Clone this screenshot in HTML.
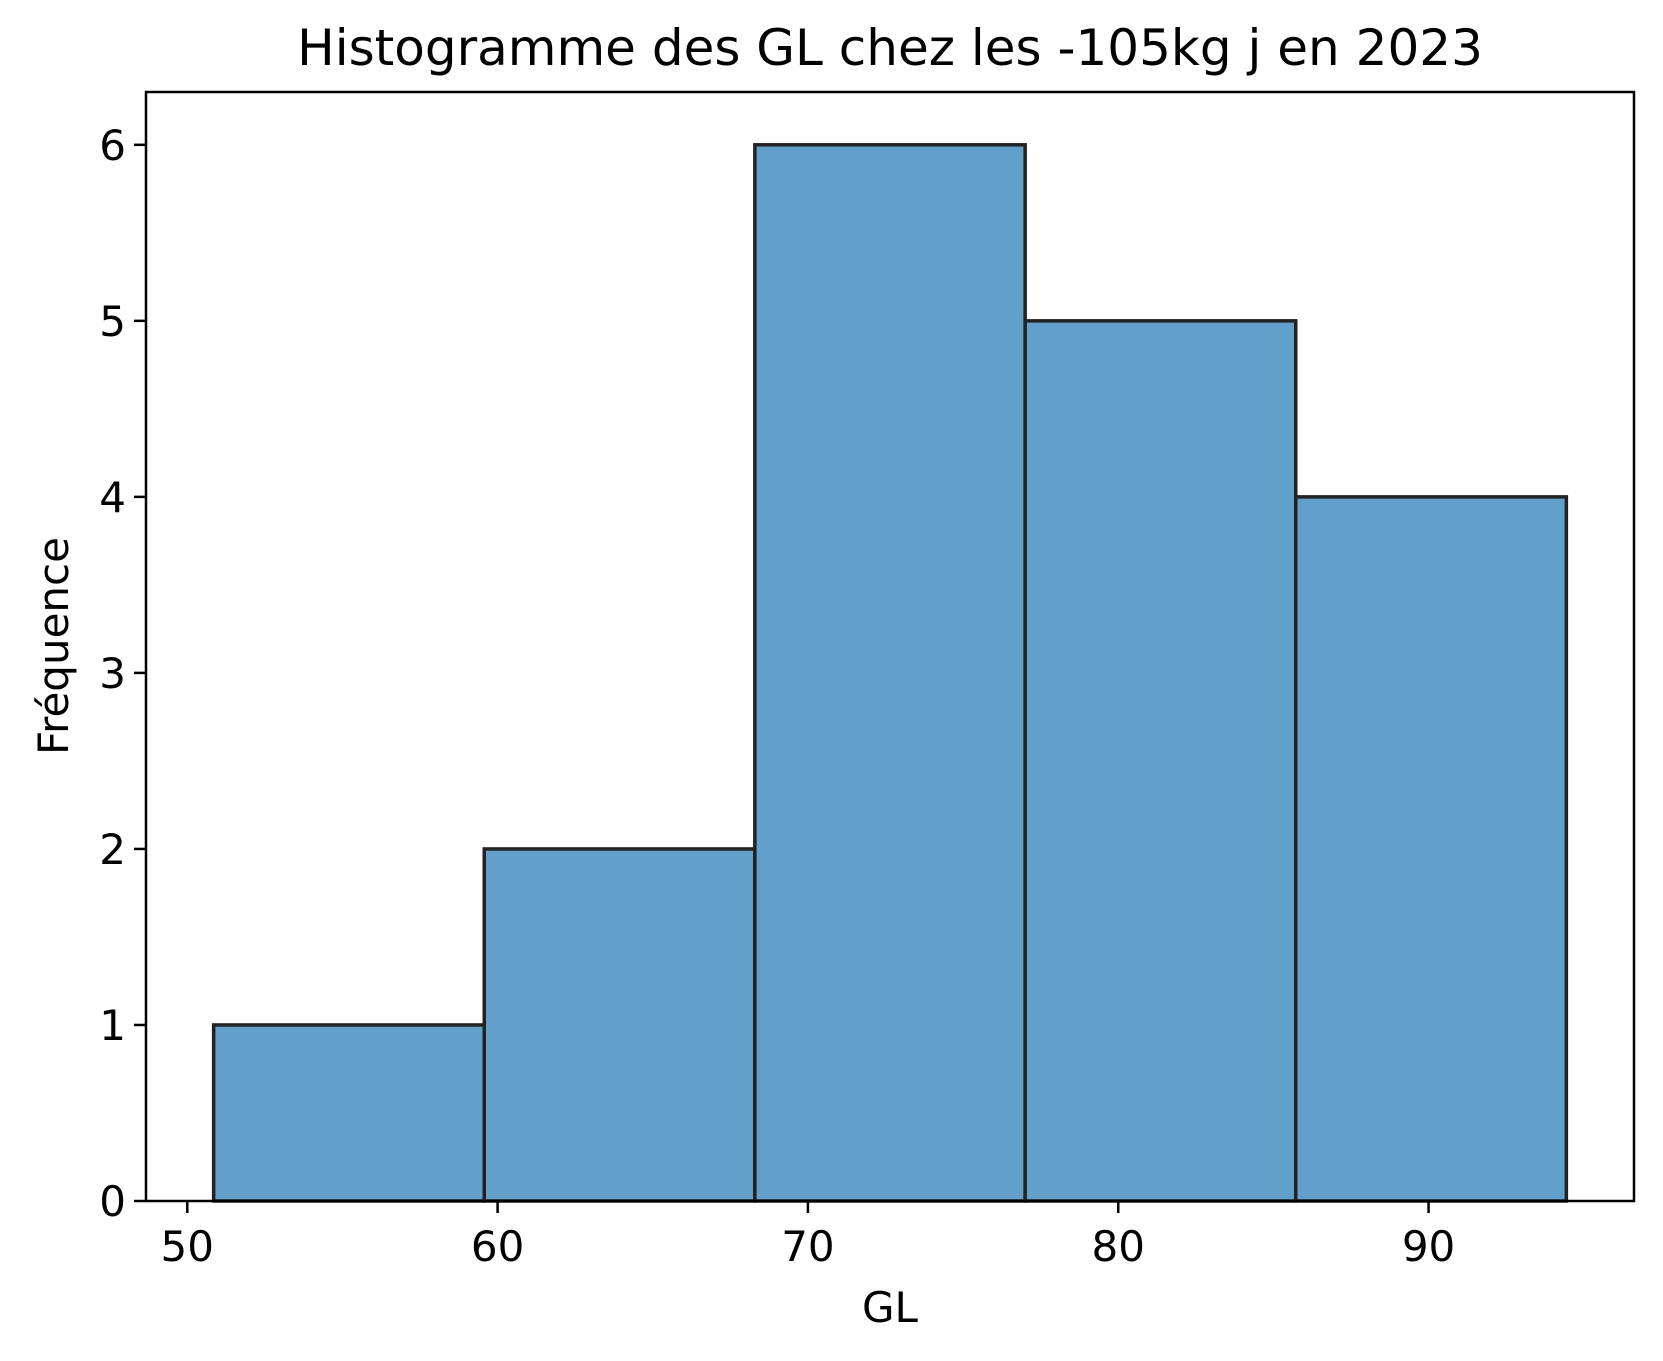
<!DOCTYPE html>
<html><head><meta charset="utf-8"><style>body{margin:0;background:#fff}svg{display:block}text{font-family:"DejaVu Sans","Liberation Sans",sans-serif;fill:#000}</style></head>
<body>
<svg id="chart" width="1663" height="1361" viewBox="0 0 1663 1361" xmlns="http://www.w3.org/2000/svg">
<text x="890" y="65" font-size="50" text-anchor="middle">Histogramme des GL chez les -105kg j en 2023</text>
<g id="bars"></g>
<g id="xticks"></g><g id="yticks"></g>
<rect x="146" y="92" width="1488" height="1109" fill="none" stroke="#000" stroke-width="2.5"/>
<text x="890" y="1322" font-size="42" text-anchor="middle">GL</text>
<text transform="translate(68,646) rotate(-90)" font-size="42" text-anchor="middle">Fréquence</text>
</svg>
<script>
const binEdges=[50.85,59.57,68.29,77.0,85.72,94.44];
const counts=[1,2,6,5,4];
const xTicks=[50,60,70,80,90];
const yTicks=[0,1,2,3,4,5,6];
const NS="http://www.w3.org/2000/svg";
const xMin=48.67,xMax=96.62,L=146,R=1634,T=92,B=1201,yMax=6.3;
const sx=v=>L+(v-xMin)/(xMax-xMin)*(R-L);
const sy=v=>B-v/yMax*(B-T);
function mk(tag,at,parent){const e=document.createElementNS(NS,tag);for(const k in at)e.setAttribute(k,at[k]);document.getElementById(parent).appendChild(e);return e;}
counts.forEach((c,i)=>{const x0=sx(binEdges[i]),x1=sx(binEdges[i+1]);
const r=mk('rect',{x:x0,y:sy(c),width:x1-x0,height:sy(0)-sy(c),fill:'#629fca',stroke:'#222',"stroke-width":3.5},'bars');

});
xTicks.forEach(t=>{const x=sx(t);
const l=mk('line',{x1:x,x2:x,y1:B,y2:B+12,stroke:'#000',"stroke-width":2.5},'xticks');


const tx=mk('text',{x:x,y:B+60,"font-size":42,"text-anchor":"middle"},'xticks');tx.textContent=t;

});
yTicks.forEach(t=>{const y=sy(t);
const l=mk('line',{x1:L-12,x2:L,y1:y,y2:y,stroke:'#000',"stroke-width":2.5},'yticks');


const tx=mk('text',{x:L-20,y:y+15,"font-size":42,"text-anchor":"end"},'yticks');tx.textContent=t;

});
</script>
</body></html>
